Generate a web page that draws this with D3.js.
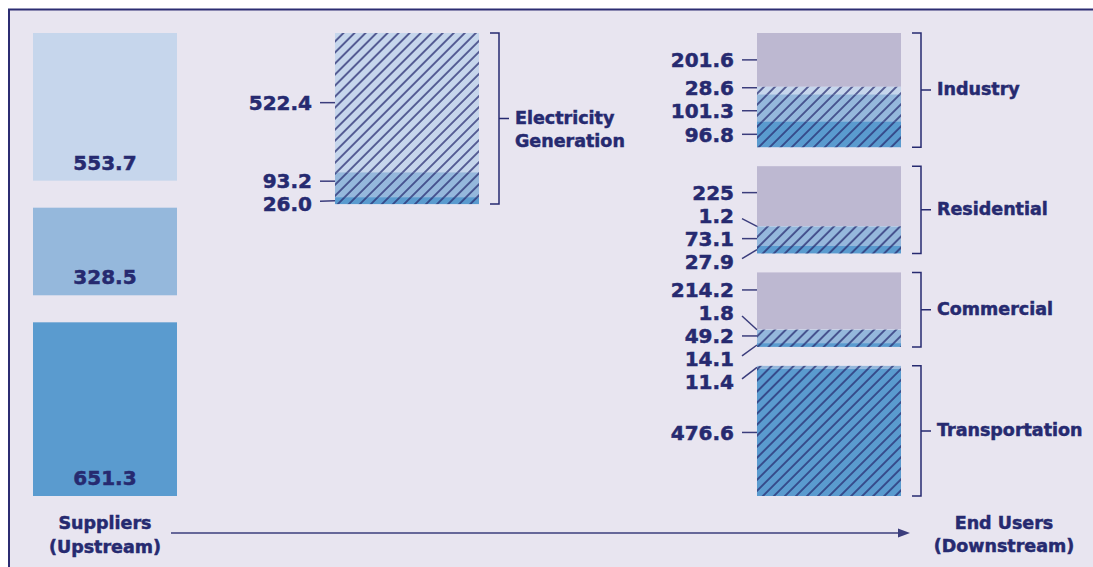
<!DOCTYPE html>
<html>
<head>
<meta charset="utf-8">
<script src="https://cdn.jsdelivr.net/npm/d3@7"></script>
<style>
  body { margin: 0; background: #fff; }
  text { font-family: "DejaVu Sans", sans-serif; font-weight: bold; fill: #262a70; stroke: #262a70; stroke-width: 0.5px; }
</style>
</head>
<body>
<svg id="chart" width="1093" height="567"></svg>
<script>
// values as printed on the chart
var supplierValues = ["553.7", "328.5", "651.3"];
var electricityValues = ["522.4", "93.2", "26.0"];
var sectors = ["Industry", "Residential", "Commercial", "Transportation"];
var fromElectricity = ["201.6", "225", "214.2", null];
var fromLight = ["28.6", "1.2", "1.8", null];
var fromMedium = ["101.3", "73.1", "49.2", "11.4"];
var fromDark = ["96.8", "27.9", "14.1", "476.6"];

var ink = "#262a70";
var colors = { gray: "#bdb8d1", light: "#c6d6ec", medium: "#95b8dc", dark: "#5a9bcf" };
var supplierColors = [colors.light, colors.medium, colors.dark];

var svg = d3.select("#chart");
var yStart = 33, yEnd = 496, barW = 144;
var supplierX = 33, elecX = 335, endX = 757;

// one scale for every bar height
var h = d3.scaleLinear().domain([0, 600]).range([0, 160]);

// background panel
svg.append("rect").attr("x", 9).attr("y", 9).attr("width", 1084).attr("height", 558).attr("fill", "#e8e5f0");
svg.append("path").attr("d", "M9,567V9.5H1093").attr("fill", "none").attr("stroke", "#2c2d72").attr("stroke-width", 2);

// hatch pattern
svg.append("defs").append("pattern")
  .attr("id", "hatch").attr("patternUnits", "userSpaceOnUse")
  .attr("width", 7.8).attr("height", 7.8).attr("patternTransform", "rotate(45)")
  .append("line").attr("x1", 1).attr("y1", 0).attr("x2", 1).attr("y2", 7.8)
  .attr("stroke", ink).attr("stroke-width", 1.4);

// stack segments from top
function stack(list, y0) {
  var y = y0;
  list.forEach(function(d) {
    d.y = y;
    d.h = h(+d.value);
    d.center = y + d.h / 2;
    y += d.h;
  });
  return y;
}

// push overlapping labels apart
function dodge(items, gap) {
  var clusters = items.map(function(d) { return { items: [d], pos: d.center }; });
  var merged = true;
  while (merged) {
    merged = false;
    for (var i = 0; i < clusters.length - 1; i++) {
      var a = clusters[i], b = clusters[i + 1];
      if (b.pos - (a.pos + (a.items.length - 1) * gap) < gap) {
        var all = a.items.concat(b.items);
        var pos = d3.mean(all, function(d, j) { return d.center - j * gap; });
        clusters.splice(i, 2, { items: all, pos: pos });
        merged = true;
        break;
      }
    }
  }
  clusters.forEach(function(c) {
    c.items.forEach(function(d, j) { d.labelY = c.pos + j * gap; });
  });
}

function drawSegments(x, segs) {
  var g = svg.append("g");
  g.selectAll("rect.seg").data(segs).enter().append("rect").attr("class", "seg")
    .attr("x", x).attr("y", function(d) { return d.y; })
    .attr("width", barW).attr("height", function(d) { return d.h; })
    .attr("fill", function(d) { return d.color; });
  g.selectAll("rect.hatch").data(segs.filter(function(d) { return d.hatch; })).enter().append("rect").attr("class", "hatch")
    .attr("x", x).attr("y", function(d) { return d.y; })
    .attr("width", barW).attr("height", function(d) { return d.h; })
    .attr("fill", "url(#hatch)");
}

function drawLabels(x, segs) {
  dodge(segs, 23);
  var g = svg.append("g");
  g.selectAll("text").data(segs).enter().append("text")
    .attr("x", x - 23).attr("y", function(d) { return d.labelY; })
    .attr("dy", "0.36em").attr("text-anchor", "end").attr("font-size", 20)
    .text(function(d) { return d.value; });
  g.selectAll("line").data(segs).enter().append("line")
    .attr("x1", x - 15).attr("x2", x)
    .attr("y1", function(d) {
      if (d.labelY >= d.y && d.labelY <= d.y + d.h) return d.labelY;
      return d.labelY + (d.center > d.labelY ? 3 : -3);
    })
    .attr("y2", function(d) {
      if (d.labelY >= d.y && d.labelY <= d.y + d.h) return d.labelY;
      return d.center;
    })
    .attr("stroke", "#3b3d7c").attr("stroke-width", 1.5);
}

function bracket(x, y0, y1, lines) {
  var bx = x + barW + 11, mid = (y0 + y1) / 2;
  svg.append("path")
    .attr("d", "M" + bx + "," + y0 + "H" + (bx + 9) + "V" + y1 + "H" + bx + "M" + (bx + 9) + "," + mid + "H" + (bx + 19))
    .attr("fill", "none").attr("stroke", ink).attr("stroke-width", 1.5);
  var t = svg.append("text").attr("x", bx + 25).attr("y", mid - 1).attr("dy", "0.36em").attr("font-size", 17.5);
  lines.forEach(function(s, i) {
    t.append("tspan").attr("x", bx + 25).attr("dy", i === 0 ? "0.36em" : 23).text(s);
  });
}

// suppliers column
var supplierSegs = supplierValues.map(function(v, i) { return { value: v, color: supplierColors[i] }; });
var supplierTotal = d3.sum(supplierSegs, function(d) { return h(+d.value); });
var supplierGap = (yEnd - yStart - supplierTotal) / (supplierSegs.length - 1);
var sy = yStart;
supplierSegs.forEach(function(d) { stack([d], sy); sy += d.h + supplierGap; });
drawSegments(supplierX, supplierSegs);
svg.append("g").selectAll("text").data(supplierSegs).enter().append("text")
  .attr("x", supplierX + barW / 2).attr("y", function(d) { return d.y + d.h - 18; })
  .attr("dy", "0.36em").attr("text-anchor", "middle").attr("font-size", 20)
  .text(function(d) { return d.value; });

// electricity generation column
var elecSegs = electricityValues.map(function(v, i) { return { value: v, color: supplierColors[i], hatch: true }; });
var elecBottom = stack(elecSegs, yStart);
drawSegments(elecX, elecSegs);
drawLabels(elecX, elecSegs);
bracket(elecX, yStart, elecBottom, ["Electricity", "Generation"]);

// end users column
var groups = sectors.map(function(name, i) {
  var segs = [
    { value: fromElectricity[i], color: colors.gray, hatch: false },
    { value: fromLight[i], color: colors.light, hatch: true },
    { value: fromMedium[i], color: colors.medium, hatch: true },
    { value: fromDark[i], color: colors.dark, hatch: true }
  ].filter(function(d) { return d.value !== null; });
  return { name: name, segs: segs, total: d3.sum(segs, function(d) { return h(+d.value); }) };
});
var endGap = (yEnd - yStart - d3.sum(groups, function(g) { return g.total; })) / (groups.length - 1);
var gy = yStart;
var allEndSegs = [];
groups.forEach(function(g) {
  g.y0 = gy;
  g.y1 = stack(g.segs, gy);
  gy = g.y1 + endGap;
  drawSegments(endX, g.segs);
  allEndSegs = allEndSegs.concat(g.segs);
});
drawLabels(endX, allEndSegs);
groups.forEach(function(g) { bracket(endX, g.y0, g.y1, [g.name]); });

// flow arrow and end labels
svg.append("line").attr("x1", 171).attr("x2", 900).attr("y1", 533).attr("y2", 533)
  .attr("stroke", "#3b3d7c").attr("stroke-width", 1.5);
svg.append("path").attr("d", "M898,528.5L910,533L898,537.5Z").attr("fill", "#3b3d7c");

svg.append("text").attr("x", 105).attr("y", 523).attr("dy", "0.36em").attr("text-anchor", "middle").attr("font-size", 17.5).text("Suppliers");
svg.append("text").attr("x", 105).attr("y", 547).attr("dy", "0.36em").attr("text-anchor", "middle").attr("font-size", 17.5).text("(Upstream)");
svg.append("text").attr("x", 1004).attr("y", 523).attr("dy", "0.36em").attr("text-anchor", "middle").attr("font-size", 17.5).text("End Users");
svg.append("text").attr("x", 1004).attr("y", 546).attr("dy", "0.36em").attr("text-anchor", "middle").attr("font-size", 17.5).text("(Downstream)");
</script>
</body>
</html>
